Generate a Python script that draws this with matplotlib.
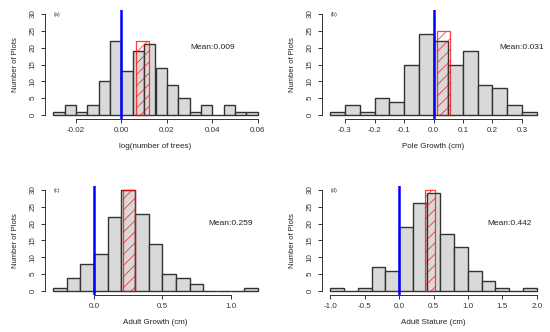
import matplotlib
matplotlib.use("Agg")
import matplotlib.pyplot as plt
import numpy as np

plt.rcParams["font.family"] = ["Liberation Sans", "DejaVu Sans"]
plt.rcParams["hatch.linewidth"] = 0.6

# ---- data ----
a_counts = [1, 3, 1, 3, 10, 22, 13, 19, 21, 14, 9, 5, 1, 3, 0, 3, 1, 1]
a_start, a_width = -0.03, 0.005
a_ci = (0.0066, 0.0122, 22)
a_mean = "Mean:0.009"
a_ticks = [-0.02, 0.00, 0.02, 0.04, 0.06]
a_ticklabels = ["-0.02", "0.00", "0.02", "0.04", "0.06"]

b_counts = [1, 3, 1, 5, 4, 15, 24, 22, 15, 19, 9, 8, 3, 1]
b_start, b_width = -0.35, 0.05
b_ci = (0.011, 0.056, 25)
b_mean = "Mean:0.031"
b_ticks = [-0.3, -0.2, -0.1, 0.0, 0.1, 0.2, 0.3]
b_ticklabels = ["-0.3", "-0.2", "-0.1", "0.0", "0.1", "0.2", "0.3"]

c_counts = [1, 4, 8, 11, 22, 30, 23, 14, 5, 4, 2, 0, 0, 0, 1]
c_start, c_width = -0.3, 0.1
c_ci = (0.215, 0.30, 30)
c_mean = "Mean:0.259"
c_ticks = [0.0, 0.5, 1.0]
c_ticklabels = ["0.0", "0.5", "1.0"]

d_counts = [1, 0, 1, 7, 6, 19, 26, 29, 17, 13, 6, 3, 1, 0, 1]
d_start, d_width = -1.0, 0.2
d_ci = (0.377, 0.529, 30)
d_mean = "Mean:0.442"
d_ticks = [-1.0, -0.5, 0.0, 0.5, 1.0, 1.5, 2.0]
d_ticklabels = ["-1.0", "-0.5", "0.0", "0.5", "1.0", "1.5", "2.0"]

panels = [
    ("(a)", "log(number of trees)", a_counts, a_start, a_width, a_ci, a_mean, 0.040, a_ticks, a_ticklabels),
    ("(b)", "Pole Growth (cm)", b_counts, b_start, b_width, b_ci, b_mean, 0.30, b_ticks, b_ticklabels),
    ("(c)", "Adult Growth (cm)", c_counts, c_start, c_width, c_ci, c_mean, 1.0, c_ticks, c_ticklabels),
    ("(d)", "Adult Stature (cm)", d_counts, d_start, d_width, d_ci, d_mean, 1.6, d_ticks, d_ticklabels),
]

W, H = 550, 332
boxes = [(45, 10, 266, 119), (322, 10, 545, 119), (45, 186, 266, 295), (322, 186, 545, 295)]

fig = plt.figure(figsize=(5.5, 3.32), dpi=100)

for (tag, xlabel, counts, start, width, ci, mean_txt, mean_x, ticks, ticklabels), box in zip(panels, boxes):
    l, t, r, b = box
    ax = fig.add_axes([l / W, (H - b) / H, (r - l) / W, (b - t) / H])
    n = len(counts)
    lefts = start + width * np.arange(n)
    ax.bar(lefts, counts, width=width, align="edge", color="#d9d9d9",
           edgecolor="#333333", linewidth=1.0)
    # red hatched interval box
    ax.bar(ci[0], ci[2], width=ci[1] - ci[0], align="edge", facecolor="none",
           edgecolor=(1, 0, 0, 0.75), hatch="///", linewidth=0.9)
    ax.axvline(0, color="blue", lw=1.8)

    span = n * width
    ax.set_xlim(start - 0.04 * span, start + span + 0.04 * span)
    ax.set_ylim(-1.2, 31.2)

    ax.set_xticks(ticks)
    ax.set_xticklabels(ticklabels)
    ax.set_yticks([0, 5, 10, 15, 20, 25, 30])
    ax.set_yticklabels(["0", "5", "10", "15", "20", "25", "30"], rotation=90, va="center")
    ax.tick_params(labelsize=5.8, length=3, width=0.7, pad=3, colors="#333333")

    for s in ("top", "right"):
        ax.spines[s].set_visible(False)
    ax.spines["left"].set_bounds(0, 30)
    ax.spines["bottom"].set_bounds(ticks[0], ticks[-1])
    for s in ("left", "bottom"):
        ax.spines[s].set_linewidth(0.7)
        ax.spines[s].set_color("#333333")
    ax.patch.set_visible(False)

    ax.set_xlabel(xlabel, fontsize=5.8, labelpad=6, color="#222222")
    ax.set_ylabel("Number of Plots", fontsize=5.5, labelpad=8, color="#222222")

    ax.text(start, 30, tag, fontsize=4, ha="left", va="center", color="#333333")
    ax.text(mean_x, 20, mean_txt, fontsize=6, ha="center", va="center", color="#222222")

fig.savefig("out.png", dpi=100)
